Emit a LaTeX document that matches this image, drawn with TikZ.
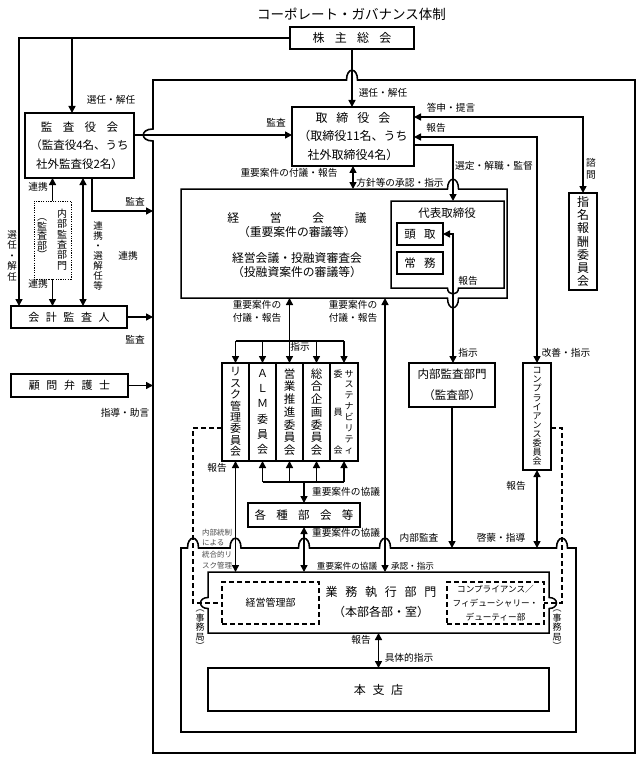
\documentclass[tikz,border=0pt]{standalone}
\usepackage{fontspec}
\setmainfont{Noto Sans CJK JP}
\usetikzlibrary{arrows.meta}
\newcommand\jsp[1][0.75em]{\hspace{#1}}
\begin{document}
\begin{tikzpicture}[x=1pt,y=-1pt,
  every node/.style={inner sep=0pt,outer sep=0pt},
  ln/.style={line width=1.5pt},
  tip/.style={ln,-{Triangle[length=7pt,width=7pt]}},
  tips/.style={ln,{Triangle[length=7pt,width=7pt]}-{Triangle[length=7pt,width=7pt]}},
  box/.style={draw,line width=1.5pt,inner sep=0pt,align=center,font=\fontsize{12}{18.5}\selectfont},
  ghost/.style={inner sep=0pt,outer sep=0pt},
  lbl/.style={inner sep=0pt,align=center,font=\fontsize{9.7}{13}\selectfont},
  vlbl/.style={inner sep=0pt,align=center,font=\fontsize{9.5}{10.5}\selectfont},
  dsh/.style={line width=1.5pt,dash pattern=on 5pt off 3pt},
  smalllbl/.style={inner sep=0pt,anchor=west,font=\fontsize{7.5}{10}\selectfont,text=black!70},
  vt/.style={align=center,inner sep=0pt}]
\useasboundingbox (0,0) rectangle (642,762);

% title
\node[font=\fontsize{13.5}{16}\selectfont] (title) at (351.5,14) {コーポレート・ガバナンス体制};

% ---------- boxes ----------
\node[box,minimum width=124pt,minimum height=22pt] (kabu) at (352,38) {株\jsp[0.85em]主\jsp[0.85em]総\jsp[0.85em]会};
\node[box,minimum width=109pt,minimum height=65pt,font=\fontsize{11.5}{18.5}\selectfont] (kansa) at (79.5,145.5) {監\jsp[0.9em]査\jsp[0.9em]役\jsp[0.9em]会\\（監査役4名、うち\\社外監査役2名）};
\node[box,minimum width=122pt,minimum height=59pt] (tori) at (353,136.5) {取\jsp 締\jsp 役\jsp 会\\（取締役11名、うち\\社外取締役4名）};
\node[box,minimum width=28pt,minimum height=97pt,font=\fontsize{12}{13.2}\selectfont] (shimei) at (583,241.5) {指\\名\\報\\酬\\委\\員\\会};

% big outer box
\node[ghost,minimum width=482pt,minimum height=673pt] (big) at (394,416.5) {};
\draw[line width=1.6pt] (153,80) -- (346.5,80) .. controls (346.5,67) and (357.5,67) .. (357.5,80) -- (635,80) -- (635,753) -- (153,753) -- (153,141) .. controls (140,141) and (140,129) .. (153,129) -- cycle;

% keiei kaigi
\node[ghost,minimum width=326pt,minimum height=109pt] (keiei) at (344,243.5) {};
\draw[ln] (181,189) -- (447.5,189) .. controls (447.5,176) and (458.5,176) .. (458.5,189) -- (507,189) -- (507,298) -- (458.5,298) .. controls (458.5,311) and (447.5,311) .. (447.5,298) -- (181,298) -- cycle;
\node[vt,font=\fontsize{11.8}{14}\selectfont] (keieit1) at (297,225) {経\jsp[2.6em]営\jsp[2.6em]会\jsp[2.6em]議\\（重要案件の審議等）};
\node[vt,font=\fontsize{11.8}{14}\selectfont] (keieit2) at (297,265) {経営会議・投融資審査会\\（投融資案件の審議等）};

% daihyo
\node[ghost,minimum width=113pt,minimum height=87pt] (daihyo) at (447.5,244.5) {};
\draw[ln] (391,201) -- (504,201) -- (504,288) -- (458.5,288) .. controls (458.5,296) and (447.5,296) .. (447.5,288) -- (391,288) -- cycle;
\node[font=\fontsize{11.5}{14}\selectfont] (daihyot) at (447,213) {代表取締役};
\node[box,minimum width=46pt,minimum height=22pt,font=\fontsize{11.5}{14}\selectfont] (todori) at (420,234) {頭\jsp[0.7em]取};
\node[box,minimum width=46pt,minimum height=22pt,font=\fontsize{11.5}{14}\selectfont] (joumu) at (420,263) {常\jsp[0.7em]務};

\node[box,minimum width=86pt,minimum height=44pt,font=\fontsize{11.5}{21}\selectfont] (naibu) at (452,385) {内部監査部門\\（監査部）};
\node[box,minimum width=28pt,minimum height=107pt,font=\fontsize{9}{9.1}\selectfont] (compl) at (537,416.5) {コ\\ン\\プ\\ラ\\イ\\ア\\ン\\ス\\委\\員\\会};

% committees
\node[box,minimum width=27pt,minimum height=98pt,font=\fontsize{11}{11.4}\selectfont] (risk) at (235.5,412) {リ\\ス\\ク\\管\\理\\委\\員\\会};
\node[box,minimum width=27pt,minimum height=98pt,font=\fontsize{11}{15.3}\selectfont] (alm) at (262.5,412) {Ａ\\Ｌ\\Ｍ\\委\\員\\会};
\node[box,minimum width=27pt,minimum height=98pt,font=\fontsize{11.5}{12.7}\selectfont] (eigyo) at (289.5,412) {営\\業\\推\\進\\委\\員\\会};
\node[box,minimum width=27pt,minimum height=98pt,font=\fontsize{11.5}{12.7}\selectfont] (sogo) at (316.5,412) {総\\合\\企\\画\\委\\員\\会};
\node[box,minimum width=28pt,minimum height=98pt] (sus) at (344,412) {};
\node[vt,font=\fontsize{9}{10.9}\selectfont] (sust1) at (349,412) {サ\\ス\\テ\\ナ\\ビ\\リ\\テ\\ィ};
\node[vt,font=\fontsize{9}{38}\selectfont] (sust2) at (338,412) {委\\員\\会};

\node[box,minimum width=112pt,minimum height=24pt,font=\fontsize{11.5}{14}\selectfont] (kakushu) at (304,515) {各\jsp[0.9em]種\jsp[0.9em]部\jsp[0.9em]会\jsp[0.9em]等};

% inner box
\node[ghost,minimum width=395pt,minimum height=184pt] (inner) at (378.5,640) {};
\draw[line width=1.6pt] (181,732) -- (181,548) -- (187.5,548) .. controls (187.5,535) and (198.5,535) .. (198.5,548) -- (230,548) .. controls (230,535) and (241,535) .. (241,548) -- (298.5,548) .. controls (298.5,535) and (309.5,535) .. (309.5,548) -- (379.5,548) .. controls (379.5,535) and (390.5,535) .. (390.5,548) -- (556.5,548) .. controls (556.5,535) and (567.5,535) .. (567.5,548) -- (576,548) -- (576,732) -- cycle;

% gyomu
\node[ghost,minimum width=341pt,minimum height=61pt] (gyomu) at (378.5,602.5) {};
\draw[ln] (208,572) -- (549,572) -- (549,597.5) .. controls (559,597.5) and (559,608.5) .. (549,608.5) -- (549,633) -- (208,633) -- (208,608.5) .. controls (198,608.5) and (198,597.5) .. (208,597.5) -- cycle;
\node[vt,font=\fontsize{12}{20}\selectfont] (gyomut) at (381,602) {業\jsp[0.65em]務\jsp[0.65em]執\jsp[0.65em]行\jsp[0.65em]部\jsp[0.65em]門\\（本部各部・室）};
\node[draw,dsh,minimum width=97pt,minimum height=42pt,font=\fontsize{10}{12}\selectfont] (kanri) at (270.5,603) {経営管理部};
\node[draw,dsh,minimum width=97pt,minimum height=42pt,align=center,font=\fontsize{8.6}{14}\selectfont] (compd) at (495.5,603) {コンプライアンス／\\フィデューシャリー・\\デューティー部};
\node[box,minimum width=341pt,minimum height=43pt] (honshi) at (378.5,689.5) {本\jsp[0.55em]支\jsp[0.55em]店};

% left side
\node[draw,line width=1pt,dash pattern=on 1.2pt off 1.2pt,minimum width=37pt,minimum height=78pt] (naibuL) at (52.5,240) {};
\node[vt,font=\fontsize{10}{10.4}\selectfont] (nbt1) at (62,239.5) {内\\部\\監\\査\\部\\門};
\node[vt,font=\fontsize{10}{9.5}\selectfont] (nbt2) at (42,239) {︵\\監\\査\\部\\︶};
\node[box,minimum width=116pt,minimum height=22pt,font=\fontsize{11}{13}\selectfont] (kaikei) at (69,317) {会\jsp[0.6em]計\jsp[0.6em]監\jsp[0.6em]査\jsp[0.6em]人};
\node[box,minimum width=117pt,minimum height=23pt,font=\fontsize{11}{13}\selectfont] (komon) at (69.5,385.5) {顧\jsp[0.6em]問\jsp[0.6em]弁\jsp[0.6em]護\jsp[0.6em]士};

% ---------- connectors ----------
\coordinate (cL) at (19,0);
\coordinate (cK) at (72,0);
\draw[tip] (kabu.west) -- (kabu.west -| cL) -- (cL |- kaikei.north);
\draw[tip] (kabu.west -| cK) -- (cK |- kansa.north);
\draw[tip] (kabu.south) -- (kabu.south |- tori.north);
\coordinate (ka) at (134,135);
\draw[tip] (ka) -- (ka -| tori.west);

\draw[tip] (naibuL.north) -- (naibuL.north |- kansa.south);
\draw[tip] (naibuL.south) -- (naibuL.south |- kaikei.north);
\coordinate (c83) at (83,0);
\draw[tips] (c83 |- kansa.south) -- (c83 |- kaikei.north);
\coordinate (c92) at (92,0);
\coordinate (bA) at (153,211);
\draw[tip] (c92 |- kansa.south) |- (bA);
\draw[tip] (kaikei.east) -- (kaikei.east -| bA);
\draw[tip] (komon.east) -- (komon.east -| bA);

\coordinate (t1) at (414,117);
\coordinate (t2) at (414,137);
\coordinate (t3) at (414,145);
\coordinate (c453) at (453,0);
\draw[tips] (t1) -| (shimei.north);
\draw[tips] (t2) -| (compl.north);
\draw[tip] (t3) -| (c453 |- daihyo.north);
\draw[tips] (tori.south) -- (tori.south |- keiei.north);
\draw[tips] (todori.east) -| (c453 |- naibu.north);
\draw[tip] (naibu.south) -- (naibu.south |- inner.north);
\draw[tips] (compl.south) -- (compl.south |- inner.north);

\draw[tips] (eigyo.north |- keiei.south) -- (eigyo.north);
\coordinate (d) at (0,341);
\draw[ln] (risk.north |- d) -- (sus.north |- d);
\foreach \nm in {risk,alm,sogo,sus} \draw[tip] (\nm.north |- d) -- (\nm.north);
\coordinate (c385) at (385,0);
\draw[tips] (c385 |- gyomu.north) -- (c385 |- keiei.south);
\draw[tips] (risk.south) -- (risk.south |- gyomu.north);
\coordinate (e) at (0,482);
\draw[ln] (alm.south |- e) -- (sus.south |- e);
\foreach \nm in {alm,eigyo,sogo,sus} \draw[tip] (\nm.south |- e) -- (\nm.south);
\draw[tip] (kakushu.north |- e) -- (kakushu.north);
\draw[tips] (kakushu.south) -- (kakushu.south |- gyomu.north);
\draw[tips] (gyomu.south) -- (honshi.north);

\coordinate (f) at (0,428);
\coordinate (c193) at (193,0);
\coordinate (c562) at (562,0);
\draw[dsh] (risk.west |- f) -| (c193 |- kanri.west) -- (kanri.west);
\draw[dsh] (compl.east |- f) -| (c562 |- compd.east) -- (compd.east);

% ---------- labels ----------
\node[lbl] (l1) at (111,100) {選任・解任};
\node[lbl] (l2) at (276,123) {監査};
\node[lbl] (l3) at (383,93) {選任・解任};
\node[lbl] (l4) at (451,108) {答申・提言};
\node[lbl] (l5) at (436,128) {報告};
\node[lbl] (l6) at (494,166) {選定・解職・監督};
\node[vlbl,font=\fontsize{9.7}{12}\selectfont] (l7) at (591,169) {諮\\問};
\node[lbl] (l8) at (289,173) {重要案件の付議・報告};
\node[lbl] (l9) at (400,183) {方針等の承認・指示};
\node[lbl] (l10) at (468,281) {報告};
\node[lbl] (l11) at (468,353) {指示};
\node[lbl] (l12) at (566,353) {改善・指示};
\node[lbl] (l13) at (257,311) {重要案件の\\付議・報告};
\node[lbl] (l14) at (353,311) {重要案件の\\付議・報告};
\node[lbl] (l15) at (300,347) {指示};
\node[lbl] (l16) at (516,486) {報告};
\node[lbl] (l17) at (419,538) {内部監査};
\node[lbl] (l18) at (501,538) {啓蒙・指導};
\node[lbl] (l19) at (217,468) {報告};
\node[lbl] (l20) at (346,492) {重要案件の協議};
\node[lbl] (l21) at (346,533) {重要案件の協議};
\node[lbl,font=\fontsize{8.6}{11}\selectfont] (l22) at (347,566) {重要案件の協議};
\node[lbl,font=\fontsize{8.6}{11}\selectfont,anchor=west] (l23) at (391,566) {承認・指示};
\node[lbl] (l24) at (361,640) {報告};
\node[lbl] (l25) at (409,658) {具体的指示};
\node[lbl] (l26) at (38,187) {連携};
\node[lbl] (l27) at (38,284) {連携};
\node[lbl] (l28) at (135,202) {監査};
\node[lbl] (l29) at (128,256) {連携};
\node[lbl] (l30) at (135,340) {監査};
\node[lbl] (l31) at (125,413) {指導・助言};
\node[vlbl] (l32) at (12,256) {選\\任\\・\\解\\任};
\node[vlbl,font=\fontsize{9.5}{10}\selectfont] (l33) at (98,256) {連\\携\\・\\選\\解\\任\\等};
\node[smalllbl] (s1) at (202,533) {内部統制};
\node[smalllbl] (s2) at (202,543) {による};
\node[smalllbl] (s3) at (202,555) {統合的リ};
\node[smalllbl] (s4) at (202,566) {スク管理};
\node[vt,font=\fontsize{9}{9.5}\selectfont] (j1) at (200,630) {︵\\事\\務\\局\\︶};
\node[vt,font=\fontsize{9}{9.5}\selectfont] (j2) at (557,630) {︵\\事\\務\\局\\︶};
\end{tikzpicture}
\end{document}
